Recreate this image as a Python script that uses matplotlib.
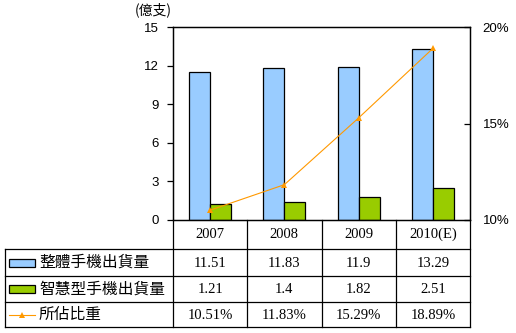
import numpy as np
import matplotlib
matplotlib.use("Agg")
import matplotlib.pyplot as plt
from matplotlib.patches import Rectangle
from matplotlib.lines import Line2D

plt.rcParams['font.family'] = ['Noto Sans CJK TC', 'DejaVu Sans']

years = ['2007', '2008', '2009', '2010(E)']
total_units = [11.51, 11.83, 11.9, 13.29]      # 億支
smart_units = [1.21, 1.4, 1.82, 2.51]
smart_share = [10.51, 11.83, 15.29, 18.89]     # %
series_names = ['整體手機出貨量', '智慧型手機出貨量', '所佔比重']

blue = '#99CCFF'
green = '#99CC00'
orange = '#FF9900'

W, H = 516, 333
fig = plt.figure(figsize=(W / 100, H / 100), dpi=100)
ax_l, ax_r, ax_t, ax_b = 173, 470, 27, 220
ax = fig.add_axes([ax_l / W, 1 - ax_b / H, (ax_r - ax_l) / W, (ax_b - ax_t) / H])

x = np.arange(len(years))
bw = 0.283
ax.bar(x - bw / 2, total_units, bw, color=blue, edgecolor='black', linewidth=0.9)
ax.bar(x + bw / 2, smart_units, bw, color=green, edgecolor='black', linewidth=0.9)
ax.set_xlim(-0.5, len(years) - 0.5)
ax.set_ylim(0, 15)
ax.set_yticks(np.arange(0, 16, 3))
ax.set_xticks([])
ax.tick_params(axis='y', direction='out', length=4, width=0.9, pad=6,
               labelsize=9.5)
for lab in ax.get_yticklabels():
    lab.set_family('Liberation Sans')
for s in ax.spines.values():
    s.set_linewidth(0.9)
ax.text(-0.068, 1.09, '(億支)', transform=ax.transAxes, ha='center',
        va='center', fontsize=10)

ax2 = ax.twinx()
ax2.plot(x, smart_share, color=orange, linewidth=0.8, marker='^',
         markersize=5, markeredgewidth=0)
ax2.set_ylim(10, 20)
ax2.set_yticks([10, 15, 20])
ax2.set_yticklabels([f'{v}%' for v in [10, 15, 20]], family='Liberation Sans')
ax2.tick_params(axis='y', direction='in', length=4, width=0.9, pad=9,
                labelsize=9.5)
for s in ax2.spines.values():
    s.set_linewidth(0.9)

# data table under the plot, in x data / axes-fraction coordinates
trans = ax.get_xaxis_transform()
px_x = (ax_r - ax_l) / len(years)
px_y = ax_b - ax_t
def fy(py):
    return -(py - ax_b) / px_y
left_edge = -0.5 - (ax_l - 5) / px_x
right_edge = len(years) - 0.5
row_lines = [249, 276, 302, 327]
line_kw = dict(color='black', linewidth=0.9, transform=trans, clip_on=False)

for xv in np.arange(-0.5, len(years), 1.0):
    ax.plot([xv, xv], [0, fy(row_lines[-1])], **line_kw)
for py in row_lines:
    ax.plot([left_edge, right_edge], [fy(py), fy(py)], **line_kw)
ax.plot([left_edge, left_edge], [fy(row_lines[0]), fy(row_lines[-1])], **line_kw)

serif = dict(family='Liberation Serif', fontsize=10.5, ha='center',
             va='center', transform=trans, clip_on=False)
for i, yr in enumerate(years):
    ax.text(i, fy(234), yr, **serif)
rows = [
    [f'{v:g}' for v in total_units],
    [f'{v:g}' for v in smart_units],
    [f'{v:.2f}%' for v in smart_share],
]
row_mid = [(row_lines[k] + row_lines[k + 1]) / 2 for k in range(3)]
for vals, py in zip(rows, row_mid):
    for i, v in enumerate(vals):
        ax.text(i, fy(py) - 0.005, v, **serif)

# legend keys in the first column
key_x0 = left_edge + 4 / px_x
key_w = 26 / px_x
key_h = 8 / px_y
for name, py, col in zip(series_names, row_mid, [blue, green, None]):
    if col is not None:
        ax.add_patch(Rectangle((key_x0, fy(py) - key_h / 2), key_w, key_h,
                               facecolor=col, edgecolor='black', linewidth=0.9,
                               transform=trans, clip_on=False))
    else:
        ax.add_line(Line2D([key_x0, key_x0 + key_w], [fy(py), fy(py)],
                           color=orange, linewidth=0.8, transform=trans,
                           clip_on=False))
        ax.add_line(Line2D([key_x0 + key_w / 2], [fy(py)], color=orange,
                           marker='^', markersize=5, markeredgewidth=0,
                           transform=trans, clip_on=False))
    ax.text(key_x0 + key_w + 4 / px_x, fy(py), name, transform=trans,
            ha='left', va='center', fontsize=11.3, clip_on=False)

fig.savefig('out.png', dpi=100)
